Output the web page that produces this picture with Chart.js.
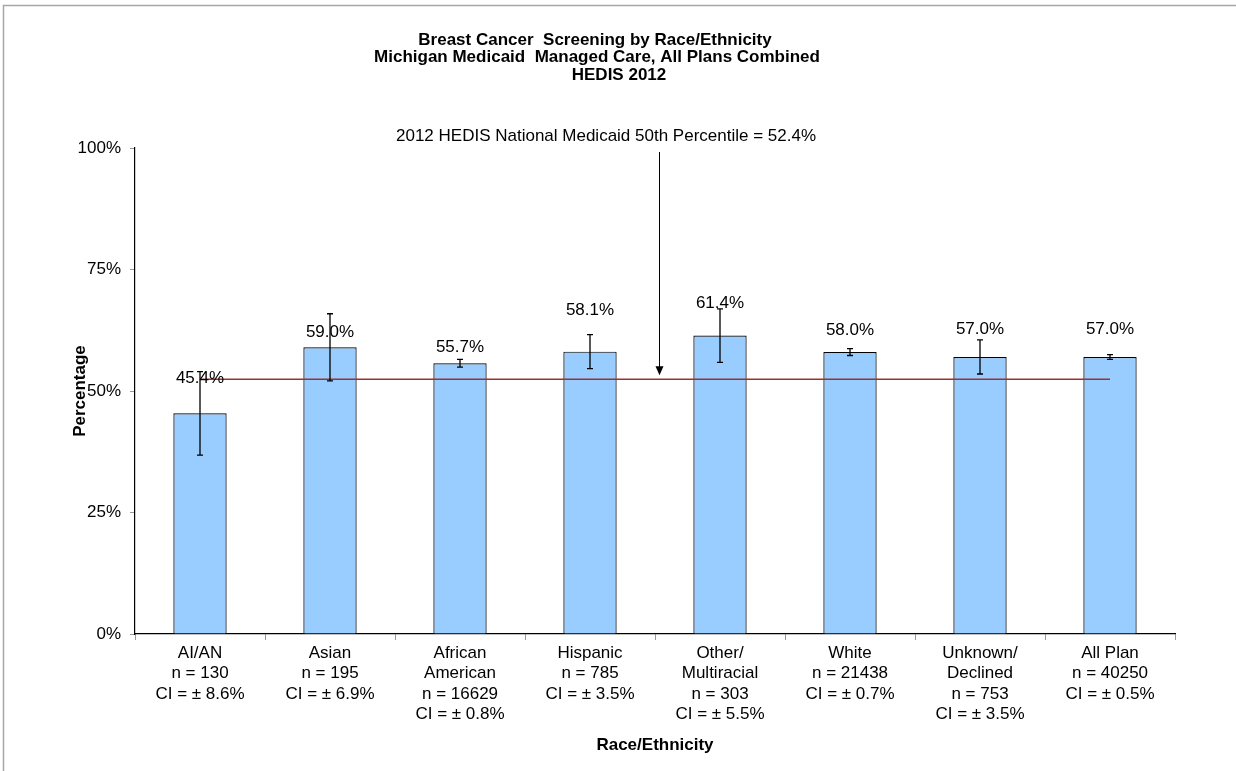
<!DOCTYPE html>
<html>
<head>
<meta charset="utf-8">
<script src="https://cdn.jsdelivr.net/npm/chart.js@4.4.0/dist/chart.umd.min.js"></script>
<style>
  html, body { margin: 0; padding: 0; background: #fff; }
  #wrap { width: 1236px; height: 771px; position: relative; }
</style>
</head>
<body>
<div id="wrap"><canvas id="screeningChart" width="1236" height="771"></canvas></div>
<script>
// categories (multi-line axis labels)
const categories = [
  ['AI/AN', 'n = 130', 'CI = \u00b1 8.6%'],
  ['Asian', 'n = 195', 'CI = \u00b1 6.9%'],
  ['African', 'American', 'n = 16629', 'CI = \u00b1 0.8%'],
  ['Hispanic', 'n = 785', 'CI = \u00b1 3.5%'],
  ['Other/', 'Multiracial', 'n = 303', 'CI = \u00b1 5.5%'],
  ['White', 'n = 21438', 'CI = \u00b1 0.7%'],
  ['Unknown/', 'Declined', 'n = 753', 'CI = \u00b1 3.5%'],
  ['All Plan', 'n = 40250', 'CI = \u00b1 0.5%']
];
const rates = [45.4, 59.0, 55.7, 58.1, 61.4, 58.0, 57.0, 57.0];
const ciHalf = [8.6, 6.9, 0.8, 3.5, 5.5, 0.7, 3.5, 0.5];
const benchmark = 52.4;
const benchmarkLabel = '2012 HEDIS National Medicaid 50th Percentile = 52.4%';
const titleLines = [
  'Breast Cancer  Screening by Race/Ethnicity',
  'Michigan Medicaid  Managed Care, All Plans Combined',
  'HEDIS 2012'
];
const yTicks = [0, 25, 50, 75, 100];

// layout only: how far each value label sits above its bar (px)
const labelLift = [35, 15, 16, 41, 32, 22, 28, 28];

const FONT = "'Liberation Sans', Arial, sans-serif";

const extras = {
  id: 'extras',
  beforeDraw(chart) {
    const ctx = chart.ctx;
    ctx.save();
    // outer frame (only top/left edges fall inside the picture)
    ctx.strokeStyle = '#a6a6a6';
    ctx.lineWidth = 1.5;
    ctx.beginPath();
    ctx.moveTo(3.5, chart.height);
    ctx.lineTo(3.5, 5.5);
    ctx.lineTo(chart.width, 5.5);
    ctx.stroke();

    // title block
    ctx.fillStyle = '#000';
    ctx.font = 'bold 17px ' + FONT;
    ctx.textAlign = 'center';
    ctx.textBaseline = 'middle';
    ctx.fillText(titleLines[0], 595, 40);
    ctx.fillText(titleLines[1], 597, 57.5);
    ctx.fillText(titleLines[2], 619, 75);
    ctx.restore();
  },
  afterDatasetsDraw(chart) {
    const ctx = chart.ctx;
    const x = chart.scales.x;
    const y = chart.scales.y;
    const bars = chart.getDatasetMeta(0).data;
    ctx.save();

    // error bars
    ctx.strokeStyle = '#000';
    ctx.lineWidth = 1.3;
    bars.forEach((bar, i) => {
      const yt = y.getPixelForValue(rates[i] + ciHalf[i]);
      const yb = y.getPixelForValue(rates[i] - ciHalf[i]);
      ctx.beginPath();
      ctx.moveTo(bar.x, yt); ctx.lineTo(bar.x, yb);
      ctx.moveTo(bar.x - 3, yt); ctx.lineTo(bar.x + 3, yt);
      ctx.moveTo(bar.x - 3, yb); ctx.lineTo(bar.x + 3, yb);
      ctx.stroke();
    });

    // value labels
    ctx.fillStyle = '#000';
    ctx.font = '17px ' + FONT;
    ctx.textAlign = 'center';
    ctx.textBaseline = 'middle';
    bars.forEach((bar, i) => {
      ctx.fillText(rates[i].toFixed(1) + '%', bar.x, bar.y - labelLift[i]);
    });

    // benchmark callout + arrow
    const ax = Math.round(x.getPixelForValue(3.53)) + 0.5;
    const tip = y.getPixelForValue(benchmark) - 4;
    ctx.fillText(benchmarkLabel, 606, 136);
    ctx.lineWidth = 1;
    ctx.beginPath();
    ctx.moveTo(ax, 152);
    ctx.lineTo(ax, tip - 8);
    ctx.stroke();
    ctx.beginPath();
    ctx.moveTo(ax - 4, tip - 9);
    ctx.lineTo(ax + 4, tip - 9);
    ctx.lineTo(ax, tip);
    ctx.closePath();
    ctx.fill();
    ctx.restore();
  }
};

new Chart(document.getElementById('screeningChart'), {
  type: 'bar',
  data: {
    labels: categories,
    datasets: [{
      type: 'bar',
      data: rates,
      backgroundColor: '#99ccff',
      borderColor: '#000',
      borderWidth: 1.2,
      categoryPercentage: 1,
      barPercentage: 0.41,
      order: 2
    }, {
      type: 'line',
      data: rates.map(() => benchmark),
      borderColor: '#993333',
      borderWidth: 1.5,
      pointRadius: 0,
      fill: false,
      order: 1
    }]
  },
  options: {
    responsive: false,
    animation: false,
    events: [],
    layout: { padding: { top: 148, left: 69.8, right: 61, bottom: 11.8 } },
    plugins: {
      legend: { display: false },
      tooltip: { enabled: false },
      title: { display: false }
    },
    scales: {
      x: {
        offset: true,
        grid: {
          offset: true,
          drawOnChartArea: false,
          tickLength: 6,
          tickColor: '#999'
        },
        border: { color: '#000', width: 1.2 },
        ticks: {
          color: '#000',
          padding: 3,
          maxRotation: 0,
          autoSkip: false,
          font: { family: FONT, size: 17, lineHeight: 1.2 }
        },
        title: {
          display: true,
          text: 'Race/Ethnicity',
          color: '#000',
          font: { family: FONT, size: 17, weight: 'bold', lineHeight: 1.2 },
          padding: { top: 4, bottom: 4 }
        },
        afterFit(scale) { scale.height = 125.2; }
      },
      y: {
        min: 0,
        max: 100,
        afterBuildTicks(scale) { scale.ticks = yTicks.map(v => ({ value: v })); },
        grid: {
          drawOnChartArea: false,
          tickLength: 5,
          tickColor: '#999'
        },
        border: { color: '#000', width: 1.2 },
        ticks: {
          color: '#000',
          padding: 9,
          font: { family: FONT, size: 17 },
          callback: v => v + '%'
        },
        title: {
          display: true,
          text: 'Percentage',
          color: '#000',
          font: { family: FONT, size: 17, weight: 'bold', lineHeight: 1.2 },
          padding: { top: 0, bottom: 0 }
        },
        afterFit(scale) { scale.width = 65.2; }
      }
    }
  },
  plugins: [extras]
});
</script>
</body>
</html>
